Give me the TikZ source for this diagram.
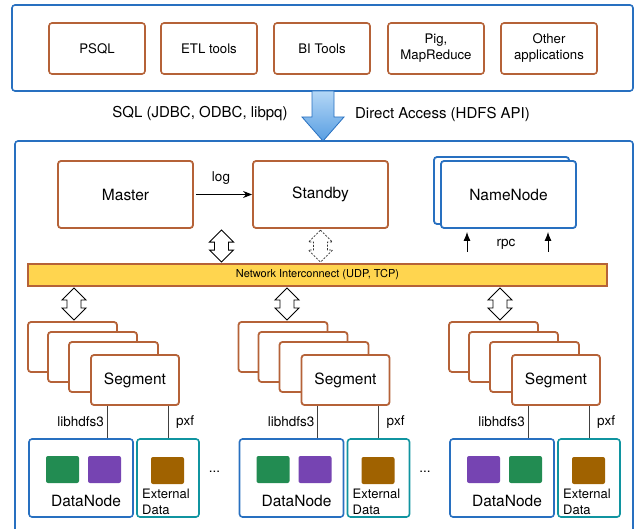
\documentclass[tikz,border=0pt]{standalone}
\usepackage{fontspec}
\setmainfont{TeX Gyre Heros}
\usetikzlibrary{arrows.meta,calc}

\definecolor{brownc}{RGB}{181,98,56}
\definecolor{bluec}{RGB}{40,112,192}
\definecolor{tealc}{RGB}{16,148,160}
\definecolor{yellowc}{RGB}{255,213,79}
\definecolor{greenc}{RGB}{34,140,82}
\definecolor{purplec}{RGB}{118,68,178}
\definecolor{ochrec}{RGB}{160,98,0}
\definecolor{arrowtop}{RGB}{180,215,246}
\definecolor{arrowbot}{RGB}{88,158,226}

\newcommand\bigtxt{\fontsize{15.5}{18}\selectfont}
\newcommand\apptxt{\fontsize{13.2}{16}\selectfont}
\newcommand\midtxt{\fontsize{13.5}{16}\selectfont}
\newcommand\tinytxt{\fontsize{11}{13}\selectfont}

\begin{document}
\begin{tikzpicture}[x=1pt,y=-1pt,
  frame/.style={draw=bluec, line width=1.6pt, rounded corners=3pt, fill=white},
  appbox/.style={draw=brownc, line width=1.6pt, rounded corners=3pt, fill=white,
    minimum width=96pt, minimum height=51pt, inner sep=0pt, align=center, font=\apptxt},
  mainbox/.style={draw=brownc, line width=1.8pt, rounded corners=3pt, fill=white,
    minimum width=135pt, minimum height=67pt, inner sep=0pt, font=\bigtxt},
  nnbox/.style={mainbox, draw=bluec},
  segbox/.style={draw=brownc, line width=1.8pt, rounded corners=3pt, fill=white,
    minimum width=89pt, minimum height=50pt, inner sep=0pt, font=\bigtxt},
  dnbox/.style={draw=bluec, line width=1.6pt, rounded corners=3pt, fill=white,
    minimum width=104pt, minimum height=78pt, inner sep=0pt},
  extbox/.style={dnbox, draw=tealc, minimum width=62pt},
  sq/.style={rounded corners=2pt, minimum width=33pt, minimum height=27pt, inner sep=0pt},
  wire/.style={draw=black!75, line width=1pt},
  lbl/.style={font=\midtxt, inner sep=1pt},
  dblarrow/.pic={
    \draw[pic actions] (0,-16) -- (12,-4) -- (7,-4) -- (7,4) -- (12,4) -- (0,16)
      -- (-12,4) -- (-7,4) -- (-7,-4) -- (-12,-4) -- cycle;
  },
]
\useasboundingbox (0,0) rectangle (637,529);
\clip (0,0) rectangle (637,529);

% client applications
\node[frame, minimum width=621pt, minimum height=86pt] (clients) at (322.5,48) {};
\node[appbox] (psql)  at (97,48.5)  {PSQL};
\node[appbox] (etl)   at (209,48.5) {ETL tools};
\node[appbox] (bi)    at (322,48.5) {BI Tools};
\node[appbox] (pig)   at (436,48.5) {Pig,\\MapReduce};
\node[appbox] (other) at (549,48.5) {Other\\applications};

% cluster frame
\node[frame, minimum width=618pt, minimum height=420pt] (cluster) at (324,351) {};

% access arrow between clients and cluster
\shade[top color=arrowtop, bottom color=arrowbot, draw=bluec, line width=0.8pt]
  (312,91) -- (334,91) -- (334,117) -- (344,117) -- (323,141) -- (302,117) -- (312,117) -- cycle;
\node[font=\fontsize{15}{18}\selectfont] (sql) at (200,114) {SQL (JDBC, ODBC, libpq)};
\node[font=\fontsize{15}{18}\selectfont] (hdfs) at (442.5,114) {Direct Access (HDFS API)};

% master, standby, namenode
\node[mainbox] (master)  at (125.5,194.5) {Master};
\node[mainbox] (standby) at (320.5,194.5) {Standby};
\node[nnbox] (nnback) at (501.5,190.5) {};
\node[nnbox] (nn) at (508.5,194.5) {NameNode};

\draw[line width=1pt, -{Stealth[length=9pt,width=7pt]}] (master.east) ++(2,0) coordinate (logs)
  (logs) -- (standby.west);
\node[lbl] (loglbl) at (221,178) {log};

% network interconnect
\node[draw=brownc, line width=1.5pt, fill=yellowc, minimum width=579pt, minimum height=22pt,
  inner sep=0pt, font=\tinytxt] (net) at (317.5,275) {Network Interconnect (UDP, TCP)};

% master/standby links to the interconnect
\pic[draw=black, fill=white, line width=0.9pt] at ($(master.south)!0.5!(net.north)$) {dblarrow};
\pic[draw=black!80, fill=white, line width=0.8pt, dash pattern=on 2pt off 1.5pt]
  at ($(standby.south)!0.5!(net.north -| standby.south)$) {dblarrow};

% rpc arrows to the namenode
\coordinate (rpca) at (467,252);
\coordinate (rpcb) at (548,252);
\draw[line width=1pt, -{Latex[length=9pt,width=7pt]}, shorten >=3pt] (rpca) -- (rpca |- nn.south);
\draw[line width=1pt, -{Latex[length=9pt,width=7pt]}, shorten >=3pt] (rpcb) -- (rpcb |- nn.south);
\node[lbl] (rpclbl) at (506,244) {rpc};

% segment hosts with their data nodes
\foreach \g/\dx/\ax/\ca/\cb in {1/0/74/greenc/purplec, 2/210.5/287/greenc/purplec, 3/421/500/purplec/greenc} {
  \pic[draw=black, fill=white, line width=0.9pt] at (\ax,304) {dblarrow};
  \begin{scope}[xshift=\dx pt]
    \node[segbox] (sa\g) at (72.5,347) {};
    \node[segbox] (sb\g) at (92.5,357) {};
    \node[segbox] (sc\g) at (113.5,367) {};
    \node[segbox, minimum width=88pt] (seg\g) at (135,380) {Segment};
    \node[dnbox] (dn\g) at (81,478) {};
    \node[extbox] (ext\g) at (168,478) {};
    \node[sq, fill=\ca] (qa\g) at (62.5,469.5) {};
    \node[sq, fill=\cb] (qb\g) at (104.5,469.5) {};
    \node[sq, fill=ochrec] (qc\g) at (167.5,470.5) {};
    \node[font=\bigtxt, inner sep=0pt] (dnl\g) at (86,501) {DataNode};
    \node[font=\fontsize{13}{16}\selectfont, anchor=west, align=left, inner sep=0pt]
      (extl\g) at (142,502) {External\\Data};
    \coordinate (lh\g) at (107,0);
    \coordinate (px\g) at (168,0);
    \draw[wire] (seg\g.south -| lh\g) -- (dn\g.north -| lh\g);
    \draw[wire] (seg\g.south -| px\g) -- (ext\g.north -| px\g);
    \node[lbl, anchor=east] (lhl\g) at (105,422) {libhdfs3};
    \node[lbl, anchor=west] (pxl\g) at (175,422) {pxf};
  \end{scope}
}
\node[lbl] (dots1) at (214.5,472) {...};
\node[lbl] (dots2) at (425,472) {...};
\end{tikzpicture}
\end{document}
